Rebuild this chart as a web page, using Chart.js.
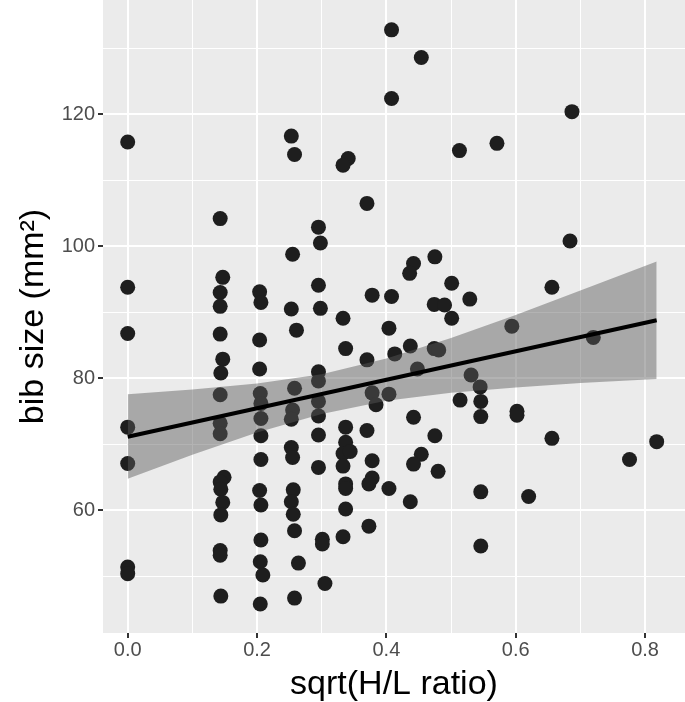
<!DOCTYPE html>
<html>
<head>
<meta charset="utf-8">
<script src="https://cdn.jsdelivr.net/npm/chart.js@4.4.1/dist/chart.umd.min.js"></script>
<style>
    body { margin: 0; background: #fff; }
    #wrap { width: 685px; height: 702px; }
</style>
</head>
<body>
<div id="wrap"><canvas id="bibChart" width="685" height="702"></canvas></div>
<script>
// values
const pointX = [
    0, 0, 0, 0, 0, 0, 0,
    0.143, 0.147, 0.143, 0.143, 0.143, 0.147, 0.144, 0.143, 0.143, 0.143, 0.149, 0.143, 0.144, 0.147, 0.144, 0.143, 0.143, 0.144,
    0.204, 0.206, 0.204, 0.204, 0.205, 0.206, 0.206, 0.206, 0.206, 0.204, 0.206, 0.206, 0.205, 0.209, 0.205,
    0.253, 0.258, 0.255, 0.253, 0.261, 0.258, 0.255, 0.253, 0.253, 0.255, 0.256, 0.253, 0.256, 0.258, 0.264, 0.258,
    0.295, 0.298, 0.295, 0.298, 0.295, 0.295, 0.295, 0.295, 0.295, 0.295, 0.301, 0.301, 0.305,
    0.341, 0.333, 0.333, 0.337, 0.337, 0.337, 0.333, 0.344, 0.333, 0.337, 0.337, 0.337, 0.333,
    0.370, 0.378, 0.370, 0.378, 0.384, 0.370, 0.378, 0.378, 0.373, 0.373,
    0.408, 0.408, 0.408, 0.404, 0.413, 0.404, 0.404,
    0.454, 0.442, 0.436, 0.437, 0.448, 0.442, 0.454, 0.442, 0.437,
    0.475, 0.474, 0.490, 0.474, 0.481, 0.475, 0.480,
    0.501, 0.501, 0.513, 0.514, 0.529, 0.531,
    0.545, 0.546, 0.546, 0.546, 0.546,
    0.571, 0.594, 0.602, 0.602, 0.620,
    0.687, 0.684, 0.656, 0.656, 0.720, 0.776, 0.818
];
const pointY = [
    115.8, 93.8, 86.8, 72.6, 67.1, 51.4, 50.4,
    104.2, 95.3, 93.0, 90.9, 86.7, 82.9, 80.8, 77.5, 73.2, 71.6, 65.0, 64.3, 63.2, 61.2, 59.3, 53.9, 53.2, 47.0,
    93.1, 91.5, 85.8, 81.4, 77.7, 76.2, 73.9, 71.3, 67.7, 63.0, 60.8, 55.5, 52.2, 50.2, 45.8,
    116.7, 113.9, 98.8, 90.5, 87.3, 78.5, 75.2, 73.8, 69.5, 68.0, 63.1, 61.3, 59.4, 56.9, 52.0, 46.7,
    102.9, 100.5, 94.1, 90.6, 81.0, 79.6, 76.5, 74.3, 71.4, 66.5, 55.6, 54.9, 48.9,
    113.3, 112.3, 89.1, 84.5, 72.6, 70.3, 68.6, 68.9, 66.7, 64.0, 63.3, 60.2, 56.0,
    106.5, 92.6, 82.8, 77.8, 76.0, 72.1, 67.5, 64.9, 64.0, 57.6,
    132.8, 122.4, 92.4, 87.6, 83.7, 77.6, 63.3,
    128.6, 97.4, 95.9, 84.9, 81.4, 74.1, 68.5, 67.0, 61.3,
    98.4, 91.2, 91.1, 84.5, 84.3, 71.3, 65.9,
    94.4, 89.1, 114.5, 76.7, 92.0, 80.5,
    78.7, 76.5, 74.2, 62.8, 54.6,
    115.6, 87.9, 75.0, 74.4, 62.1,
    120.4, 100.8, 93.8, 70.9, 86.2, 67.7, 70.4
];

// fitted line and its confidence band
const fitX = [0, 0.818];
const fitY = [71.15, 88.8];
const bandX = [0, 0.1, 0.2, 0.3, 0.4, 0.5, 0.6, 0.7, 0.818];
const bandUpper = [77.6, 78.3, 79.2, 80.6, 83.0, 86.1, 89.6, 93.3, 97.7];
const bandLower = [64.8, 68.4, 71.8, 74.6, 76.6, 77.8, 78.6, 79.3, 79.9];

// grid / tick positions
const xTicks = [0, 0.1, 0.2, 0.3, 0.4, 0.5, 0.6, 0.7, 0.8];
const yTicks = [50, 60, 70, 80, 90, 100, 110, 120, 130];

const FONT = 'Liberation Sans, Arial, sans-serif';

function pts(xs, ys) {
    return xs.map((x, i) => ({ x: x, y: ys[i] }));
}

function majorX(v) { return Math.round(v * 10) % 2 === 0; }
function majorY(v) { return v % 20 === 0; }

const panelBg = {
    id: 'panelBg',
    beforeDraw(chart) {
        const a = chart.chartArea;
        const ctx = chart.ctx;
        ctx.save();
        ctx.fillStyle = '#ebebeb';
        ctx.fillRect(a.left, a.top, a.right - a.left, a.bottom - a.top);
        ctx.restore();
    }
};

document.addEventListener("DOMContentLoaded", function () {
    const ctx = document.getElementById('bibChart').getContext('2d');

    new Chart(ctx, {
        type: 'scatter',
        data: {
            datasets: [
                {
                    data: pts(pointX, pointY),
                    pointRadius: 7.5,
                    pointBackgroundColor: '#1e1e1e',
                    pointBorderWidth: 0,
                    order: 3
                },
                {
                    data: pts(bandX, bandUpper),
                    showLine: true,
                    pointRadius: 0,
                    borderWidth: 0,
                    borderColor: 'rgba(0,0,0,0)',
                    backgroundColor: 'rgba(90,90,90,0.46)',
                    fill: '+1',
                    order: 2
                },
                {
                    data: pts(bandX, bandLower),
                    showLine: true,
                    pointRadius: 0,
                    borderWidth: 0,
                    borderColor: 'rgba(0,0,0,0)',
                    fill: false,
                    order: 2
                },
                {
                    data: pts(fitX, fitY),
                    showLine: true,
                    pointRadius: 0,
                    borderColor: '#000',
                    borderWidth: 4,
                    fill: false,
                    order: 1
                }
            ]
        },
        options: {
            responsive: false,
            animation: false,
            events: [],
            layout: { padding: 0, autoPadding: false },
            plugins: {
                legend: { display: false },
                tooltip: { enabled: false }
            },
            scales: {
                x: {
                    type: 'linear',
                    min: -0.0382,
                    max: 0.8618,
                    afterBuildTicks: ax => { ax.ticks = xTicks.map(v => ({ value: v })); },
                    afterFit: ax => { ax.height = 69; ax.paddingLeft = 0; ax.paddingRight = 0; },
                    border: { display: false },
                    grid: {
                        color: '#fff',
                        lineWidth: c => majorX(c.tick.value) ? 2 : 1,
                        tickColor: c => majorX(c.tick.value) ? '#333' : 'rgba(0,0,0,0)',
                        tickWidth: 2,
                        tickLength: 5
                    },
                    ticks: {
                        autoSkip: false,
                        maxRotation: 0,
                        padding: 0,
                        color: '#4d4d4d',
                        font: { family: FONT, size: 20 },
                        callback: v => majorX(v) ? v.toFixed(1) : ''
                    },
                    title: {
                        display: true,
                        text: 'sqrt(H/L ratio)',
                        color: '#000',
                        font: { family: FONT, size: 34, lineHeight: 1 },
                        padding: { top: 0, bottom: 0 }
                    }
                },
                y: {
                    type: 'linear',
                    min: 41.41,
                    max: 137.32,
                    afterBuildTicks: ax => { ax.ticks = yTicks.map(v => ({ value: v })); },
                    afterFit: ax => { ax.width = 103; ax.paddingTop = 0; ax.paddingBottom = 0; },
                    border: { display: false },
                    grid: {
                        color: '#fff',
                        lineWidth: c => majorY(c.tick.value) ? 2 : 1,
                        tickColor: c => majorY(c.tick.value) ? '#333' : 'rgba(0,0,0,0)',
                        tickWidth: 2,
                        tickLength: 5
                    },
                    ticks: {
                        autoSkip: false,
                        padding: 3,
                        color: '#4d4d4d',
                        font: { family: FONT, size: 20 },
                        callback: v => majorY(v) ? String(v) : ''
                    },
                    title: {
                        display: true,
                        text: 'bib size (mm²)',
                        color: '#000',
                        font: { family: FONT, size: 34, lineHeight: 1 },
                        padding: { top: 17, bottom: 0 }
                    }
                }
            }
        },
        plugins: [panelBg]
    });
});
</script>
</body>
</html>
